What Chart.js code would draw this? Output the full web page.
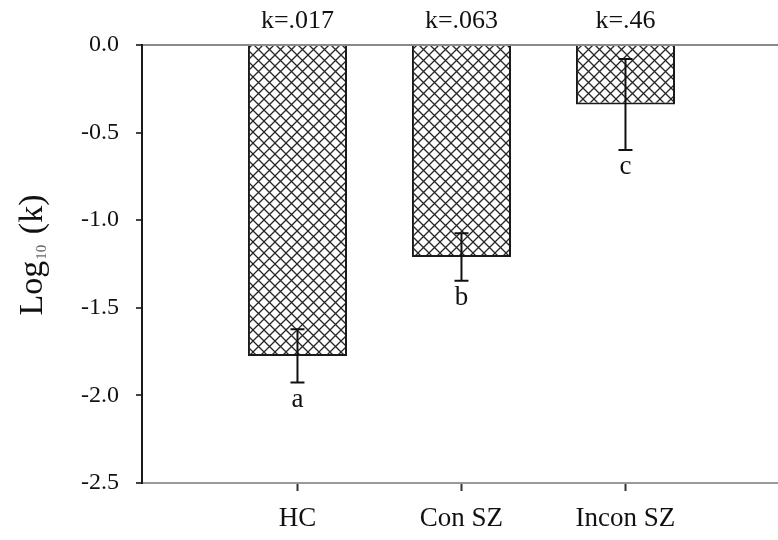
<!DOCTYPE html>
<html>
<head>
<meta charset="utf-8">
<script src="https://cdn.jsdelivr.net/npm/chart.js@4/dist/chart.umd.min.js"></script>
<style>
  html, body { margin: 0; padding: 0; background: #ffffff; }
  #c { display: block; }
</style>
</head>
<body>
<canvas id="c" width="778" height="540"></canvas>
<script>
// ---- data ----
const categories   = ['HC', 'Con SZ', 'Incon SZ'];
const logK         = [-1.775, -1.21, -0.34];
const stdErr       = [0.152, 0.135, 0.26];
const kLabels      = ['k=.017', 'k=.063', 'k=.46'];
const groupLetters = ['a', 'b', 'c'];
const yTickValues  = [0, -0.5, -1.0, -1.5, -2.0, -2.5];
const yTitleParts  = ['Log', '10', ' (k)'];

const SERIF = '"Liberation Serif", "Times New Roman", serif';

// cross-hatch pattern for the bars
function makeHatch() {
  const s = 11;
  const cv = document.createElement('canvas');
  cv.width = s; cv.height = s;
  const g = cv.getContext('2d');
  g.fillStyle = '#ffffff';
  g.fillRect(0, 0, s, s);
  g.strokeStyle = '#262626';
  g.lineWidth = 1.3;
  g.beginPath();
  g.moveTo(-1, -1); g.lineTo(s + 1, s + 1);
  g.moveTo(s + 1, -1); g.lineTo(-1, s + 1);
  g.stroke();
  return g.createPattern(cv, 'repeat');
}

const annotate = {
  id: 'annotate',
  afterDatasetsDraw(chart) {
    const ctx = chart.ctx;
    const xs = chart.scales.x, ys = chart.scales.y;
    ctx.save();
    ctx.strokeStyle = '#111';
    ctx.lineWidth = 2;
    const cap = 7;
    logK.forEach((v, i) => {
      const x = xs.getPixelForValue(i + 1);
      const yTop = ys.getPixelForValue(v + stdErr[i]);
      const yBot = ys.getPixelForValue(v - stdErr[i]);
      ctx.beginPath();
      ctx.moveTo(x, yTop); ctx.lineTo(x, yBot);
      ctx.moveTo(x - cap, yTop); ctx.lineTo(x + cap, yTop);
      ctx.moveTo(x - cap, yBot); ctx.lineTo(x + cap, yBot);
      ctx.stroke();
      ctx.fillStyle = '#111';
      ctx.font = '27px ' + SERIF;
      ctx.textAlign = 'center';
      ctx.textBaseline = 'middle';
      ctx.fillText(groupLetters[i], x, yBot + 17);
      ctx.font = '26px ' + SERIF;
      ctx.textBaseline = 'middle';
      ctx.fillText(kLabels[i], x, 21);
    });
    ctx.translate(30, 255);
    ctx.rotate(-Math.PI / 2);
    const big = '34px ' + SERIF, small = '15px ' + SERIF;
    ctx.font = big;  const w0 = ctx.measureText(yTitleParts[0]).width;
    ctx.font = small; const w1 = ctx.measureText(yTitleParts[1]).width;
    ctx.font = big;  const w2 = ctx.measureText(yTitleParts[2]).width;
    let x0 = -(w0 + w1 + 3 + w2) / 2;
    ctx.textAlign = 'left';
    ctx.textBaseline = 'alphabetic';
    ctx.fillStyle = '#111';
    ctx.font = big;  ctx.fillText(yTitleParts[0], x0, 12);
    ctx.font = small; ctx.fillStyle = '#666'; ctx.fillText(yTitleParts[1], x0 + w0 + 1, 16);
    ctx.font = big;  ctx.fillStyle = '#111'; ctx.fillText(yTitleParts[2], x0 + w0 + w1 + 3, 12);
    ctx.restore();
  }
};

new Chart(document.getElementById('c'), {
  type: 'bar',
  data: {
    datasets: [{
      data: logK.map((v, i) => ({ x: i + 1, y: v })),
      backgroundColor: makeHatch(),
      borderColor: '#1a1a1a',
      borderWidth: 2,
      borderSkipped: 'start',
      barPercentage: 0.604,
      categoryPercentage: 1.0
    }]
  },
  options: {
    responsive: false,
    animation: false,
    layout: { padding: { left: 0, right: 0, top: 45, bottom: 0 } },
    plugins: { legend: { display: false }, tooltip: { enabled: false } },
    scales: {
      x: {
        type: 'linear',
        offset: false,
        min: 0.052,
        max: 3.93,
        afterBuildTicks: (s) => { s.ticks = categories.map((c, i) => ({ value: i + 1 })); },
        afterFit: (s) => { s.height = 57; },
        ticks: {
          autoSkip: false,
          maxRotation: 0,
          padding: 12,
          color: '#111',
          font: { family: SERIF, size: 27 },
          callback: (v, i) => categories[i]
        },
        grid: { offset: false, drawOnChartArea: false, drawTicks: true, tickLength: 8, tickColor: '#333', tickWidth: 2 },
        border: { display: true, color: '#9a9a9a', width: 2 }
      },
      y: {
        min: -2.5,
        max: 0,
        afterBuildTicks: (s) => { s.ticks = yTickValues.map(v => ({ value: v })); },
        afterFit: (s) => { s.width = 142; },
        ticks: {
          padding: 17,
          color: '#111',
          font: { family: SERIF, size: 24 },
          callback: (v) => Number(v).toFixed(1)
        },
        grid: {
          color: (c) => (c.tick && c.tick.value === 0 ? '#8a8a8a' : 'rgba(0,0,0,0)'),
          lineWidth: 2,
          drawTicks: true,
          tickLength: 6,
          tickColor: '#444',
          tickWidth: 2
        },
        border: { display: true, color: '#1a1a1a', width: 2 }
      }
    }
  },
  plugins: [annotate]
});
</script>
</body>
</html>
